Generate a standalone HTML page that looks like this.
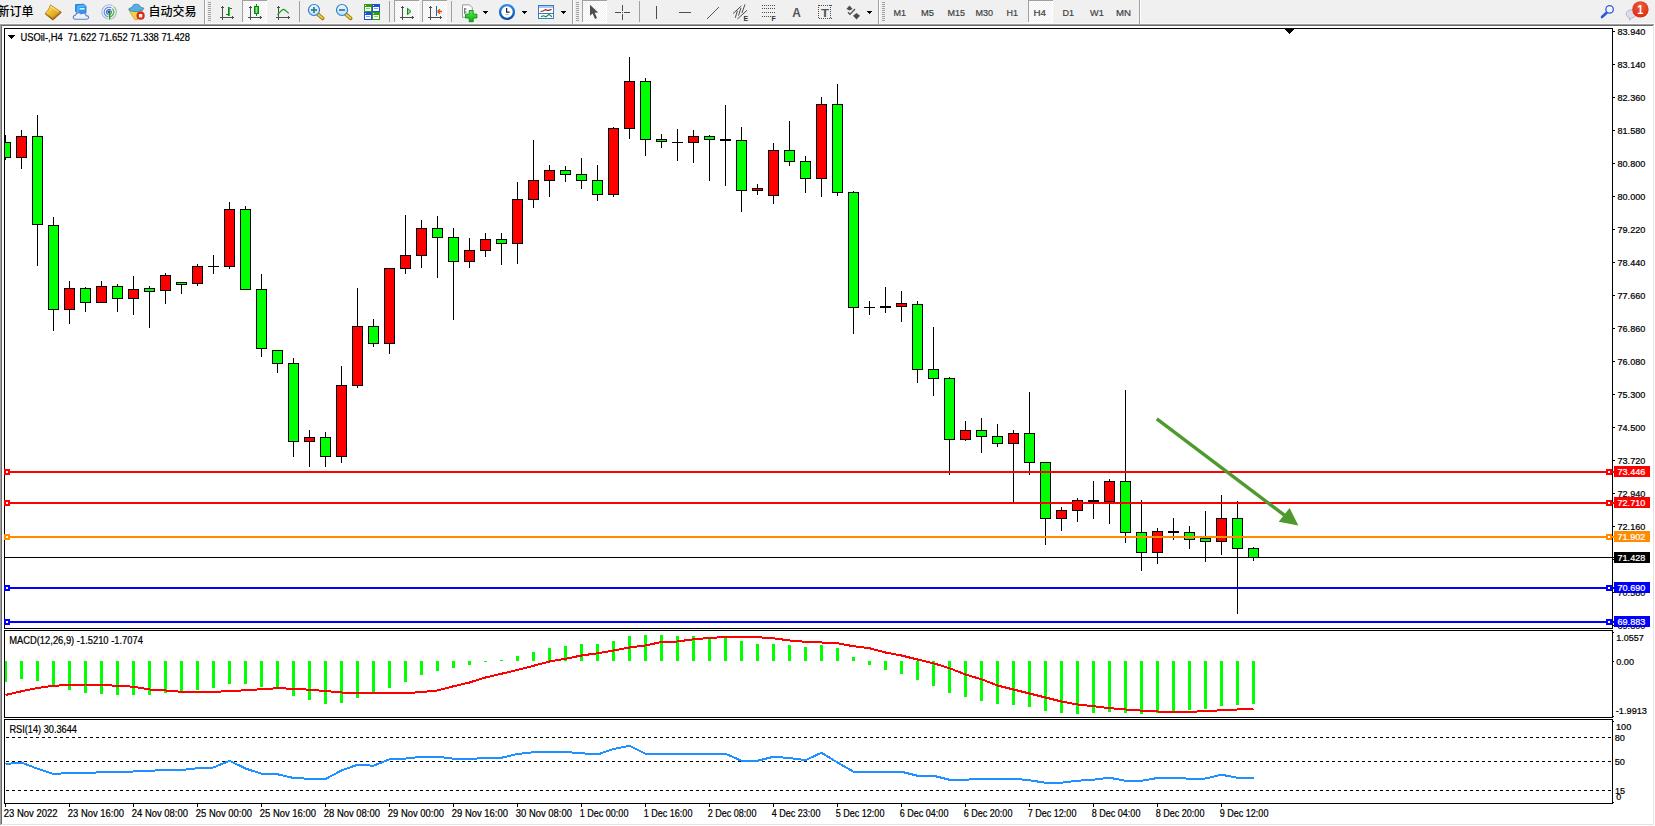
<!DOCTYPE html>
<html lang="zh"><head><meta charset="utf-8"><title>USOil-,H4</title>
<style>html,body{margin:0;padding:0;background:#fff;overflow:hidden}body{width:1655px;height:826px;position:relative}svg{position:absolute;left:0;top:0;display:block}text{font-family:'Liberation Sans', sans-serif;white-space:pre}.cjk{font-family:'Liberation Sans', 'Noto Sans CJK SC', sans-serif}</style></head><body>
<svg width="1655" height="826" viewBox="0 0 1655 826">
<g shape-rendering="crispEdges">
<rect x="0" y="0" width="1655" height="826" fill="#ffffff"/>
<rect x="0" y="0" width="1655" height="24" fill="#f0f0f0"/>
<rect x="0" y="23" width="1655" height="1" fill="#f8f8f8"/>
<rect x="0" y="24" width="1654" height="1" fill="#a0a0a0"/>
<rect x="0" y="24" width="1" height="801" fill="#a0a0a0"/>
<rect x="1" y="25" width="1652" height="1" fill="#696969"/>
<rect x="1" y="25" width="1" height="799" fill="#696969"/>
<rect x="1653" y="25" width="1" height="800" fill="#e3e3e3"/>
<rect x="1" y="824" width="1653" height="1" fill="#e3e3e3"/>
<rect x="4" y="28" width="1609" height="1" fill="#000"/>
<rect x="4" y="628" width="1609" height="1" fill="#000"/>
<rect x="4" y="28" width="1" height="601" fill="#000"/>
<rect x="1612" y="28" width="1" height="601" fill="#000"/>
<rect x="4" y="630" width="1609" height="1" fill="#000"/>
<rect x="4" y="717" width="1609" height="1" fill="#000"/>
<rect x="4" y="630" width="1" height="88" fill="#000"/>
<rect x="1612" y="630" width="1" height="88" fill="#000"/>
<rect x="4" y="719" width="1609" height="1" fill="#000"/>
<rect x="4" y="803" width="1609" height="1" fill="#000"/>
<rect x="4" y="719" width="1" height="85" fill="#000"/>
<rect x="1612" y="719" width="1" height="85" fill="#000"/>
</g>
<g shape-rendering="crispEdges">
<rect x="1285" y="29" width="9" height="1" fill="#000"/>
<rect x="1286" y="30" width="7" height="1" fill="#000"/>
<rect x="1287" y="31" width="5" height="1" fill="#000"/>
<rect x="1288" y="32" width="3" height="1" fill="#000"/>
<rect x="1289" y="33" width="1" height="1" fill="#000"/>
<rect x="5" y="135" width="1" height="25" fill="#000"/>
<rect x="5" y="142" width="6" height="16" fill="#000"/>
<rect x="5" y="143" width="5" height="14" fill="#00ff00"/>
<rect x="21" y="130" width="1" height="39" fill="#000"/>
<rect x="16" y="136" width="11" height="22" fill="#000"/>
<rect x="17" y="137" width="9" height="20" fill="#ff0000"/>
<rect x="37" y="115" width="1" height="151" fill="#000"/>
<rect x="32" y="136" width="11" height="89" fill="#000"/>
<rect x="33" y="137" width="9" height="87" fill="#00ff00"/>
<rect x="53" y="217" width="1" height="114" fill="#000"/>
<rect x="48" y="225" width="11" height="85" fill="#000"/>
<rect x="49" y="226" width="9" height="83" fill="#00ff00"/>
<rect x="69" y="281" width="1" height="43" fill="#000"/>
<rect x="64" y="288" width="11" height="22" fill="#000"/>
<rect x="65" y="289" width="9" height="20" fill="#ff0000"/>
<rect x="85" y="287" width="1" height="25" fill="#000"/>
<rect x="80" y="288" width="11" height="15" fill="#000"/>
<rect x="81" y="289" width="9" height="13" fill="#00ff00"/>
<rect x="101" y="281" width="1" height="22" fill="#000"/>
<rect x="96" y="286" width="11" height="17" fill="#000"/>
<rect x="97" y="287" width="9" height="15" fill="#ff0000"/>
<rect x="117" y="284" width="1" height="28" fill="#000"/>
<rect x="112" y="286" width="11" height="13" fill="#000"/>
<rect x="113" y="287" width="9" height="11" fill="#00ff00"/>
<rect x="133" y="276" width="1" height="39" fill="#000"/>
<rect x="128" y="289" width="11" height="10" fill="#000"/>
<rect x="129" y="290" width="9" height="8" fill="#ff0000"/>
<rect x="149" y="286" width="1" height="42" fill="#000"/>
<rect x="144" y="288" width="11" height="4" fill="#000"/>
<rect x="145" y="289" width="9" height="2" fill="#00ff00"/>
<rect x="165" y="273" width="1" height="31" fill="#000"/>
<rect x="160" y="275" width="11" height="16" fill="#000"/>
<rect x="161" y="276" width="9" height="14" fill="#ff0000"/>
<rect x="181" y="282" width="1" height="12" fill="#000"/>
<rect x="176" y="282" width="11" height="3" fill="#000"/>
<rect x="177" y="283" width="9" height="1" fill="#00ff00"/>
<rect x="197" y="264" width="1" height="22" fill="#000"/>
<rect x="192" y="266" width="11" height="18" fill="#000"/>
<rect x="193" y="267" width="9" height="16" fill="#ff0000"/>
<rect x="213" y="255" width="1" height="19" fill="#000"/>
<rect x="208" y="266" width="11" height="1" fill="#000"/>
<rect x="229" y="202" width="1" height="67" fill="#000"/>
<rect x="224" y="209" width="11" height="58" fill="#000"/>
<rect x="225" y="210" width="9" height="56" fill="#ff0000"/>
<rect x="245" y="206" width="1" height="84" fill="#000"/>
<rect x="240" y="209" width="11" height="81" fill="#000"/>
<rect x="241" y="210" width="9" height="79" fill="#00ff00"/>
<rect x="261" y="274" width="1" height="83" fill="#000"/>
<rect x="256" y="289" width="11" height="60" fill="#000"/>
<rect x="257" y="290" width="9" height="58" fill="#00ff00"/>
<rect x="277" y="350" width="1" height="23" fill="#000"/>
<rect x="272" y="350" width="11" height="14" fill="#000"/>
<rect x="273" y="351" width="9" height="12" fill="#00ff00"/>
<rect x="293" y="358" width="1" height="99" fill="#000"/>
<rect x="288" y="363" width="11" height="79" fill="#000"/>
<rect x="289" y="364" width="9" height="77" fill="#00ff00"/>
<rect x="309" y="430" width="1" height="37" fill="#000"/>
<rect x="304" y="437" width="11" height="5" fill="#000"/>
<rect x="305" y="438" width="9" height="3" fill="#ff0000"/>
<rect x="325" y="432" width="1" height="35" fill="#000"/>
<rect x="320" y="437" width="11" height="20" fill="#000"/>
<rect x="321" y="438" width="9" height="18" fill="#00ff00"/>
<rect x="341" y="366" width="1" height="97" fill="#000"/>
<rect x="336" y="385" width="11" height="72" fill="#000"/>
<rect x="337" y="386" width="9" height="70" fill="#ff0000"/>
<rect x="357" y="288" width="1" height="100" fill="#000"/>
<rect x="352" y="326" width="11" height="60" fill="#000"/>
<rect x="353" y="327" width="9" height="58" fill="#ff0000"/>
<rect x="373" y="319" width="1" height="28" fill="#000"/>
<rect x="368" y="326" width="11" height="18" fill="#000"/>
<rect x="369" y="327" width="9" height="16" fill="#00ff00"/>
<rect x="389" y="268" width="1" height="86" fill="#000"/>
<rect x="384" y="268" width="11" height="76" fill="#000"/>
<rect x="385" y="269" width="9" height="74" fill="#ff0000"/>
<rect x="405" y="215" width="1" height="59" fill="#000"/>
<rect x="400" y="255" width="11" height="14" fill="#000"/>
<rect x="401" y="256" width="9" height="12" fill="#ff0000"/>
<rect x="421" y="220" width="1" height="48" fill="#000"/>
<rect x="416" y="228" width="11" height="28" fill="#000"/>
<rect x="417" y="229" width="9" height="26" fill="#ff0000"/>
<rect x="437" y="216" width="1" height="62" fill="#000"/>
<rect x="432" y="228" width="11" height="10" fill="#000"/>
<rect x="433" y="229" width="9" height="8" fill="#00ff00"/>
<rect x="453" y="228" width="1" height="92" fill="#000"/>
<rect x="448" y="237" width="11" height="25" fill="#000"/>
<rect x="449" y="238" width="9" height="23" fill="#00ff00"/>
<rect x="469" y="238" width="1" height="30" fill="#000"/>
<rect x="464" y="250" width="11" height="12" fill="#000"/>
<rect x="465" y="251" width="9" height="10" fill="#ff0000"/>
<rect x="485" y="233" width="1" height="24" fill="#000"/>
<rect x="480" y="239" width="11" height="12" fill="#000"/>
<rect x="481" y="240" width="9" height="10" fill="#ff0000"/>
<rect x="501" y="233" width="1" height="32" fill="#000"/>
<rect x="496" y="239" width="11" height="5" fill="#000"/>
<rect x="497" y="240" width="9" height="3" fill="#00ff00"/>
<rect x="517" y="182" width="1" height="82" fill="#000"/>
<rect x="512" y="199" width="11" height="45" fill="#000"/>
<rect x="513" y="200" width="9" height="43" fill="#ff0000"/>
<rect x="533" y="140" width="1" height="68" fill="#000"/>
<rect x="528" y="180" width="11" height="20" fill="#000"/>
<rect x="529" y="181" width="9" height="18" fill="#ff0000"/>
<rect x="549" y="165" width="1" height="32" fill="#000"/>
<rect x="544" y="170" width="11" height="11" fill="#000"/>
<rect x="545" y="171" width="9" height="9" fill="#ff0000"/>
<rect x="565" y="166" width="1" height="16" fill="#000"/>
<rect x="560" y="170" width="11" height="5" fill="#000"/>
<rect x="561" y="171" width="9" height="3" fill="#00ff00"/>
<rect x="581" y="158" width="1" height="31" fill="#000"/>
<rect x="576" y="174" width="11" height="7" fill="#000"/>
<rect x="577" y="175" width="9" height="5" fill="#00ff00"/>
<rect x="597" y="165" width="1" height="36" fill="#000"/>
<rect x="592" y="180" width="11" height="15" fill="#000"/>
<rect x="593" y="181" width="9" height="13" fill="#00ff00"/>
<rect x="613" y="127" width="1" height="70" fill="#000"/>
<rect x="608" y="128" width="11" height="67" fill="#000"/>
<rect x="609" y="129" width="9" height="65" fill="#ff0000"/>
<rect x="629" y="57" width="1" height="82" fill="#000"/>
<rect x="624" y="81" width="11" height="48" fill="#000"/>
<rect x="625" y="82" width="9" height="46" fill="#ff0000"/>
<rect x="645" y="78" width="1" height="78" fill="#000"/>
<rect x="640" y="81" width="11" height="59" fill="#000"/>
<rect x="641" y="82" width="9" height="57" fill="#00ff00"/>
<rect x="661" y="134" width="1" height="14" fill="#000"/>
<rect x="656" y="139" width="11" height="3" fill="#000"/>
<rect x="657" y="140" width="9" height="1" fill="#00ff00"/>
<rect x="677" y="129" width="1" height="32" fill="#000"/>
<rect x="672" y="142" width="11" height="1" fill="#000"/>
<rect x="693" y="130" width="1" height="33" fill="#000"/>
<rect x="688" y="136" width="11" height="7" fill="#000"/>
<rect x="689" y="137" width="9" height="5" fill="#ff0000"/>
<rect x="709" y="135" width="1" height="46" fill="#000"/>
<rect x="704" y="136" width="11" height="4" fill="#000"/>
<rect x="705" y="137" width="9" height="2" fill="#00ff00"/>
<rect x="725" y="105" width="1" height="81" fill="#000"/>
<rect x="720" y="139" width="11" height="2" fill="#000"/>
<rect x="741" y="127" width="1" height="85" fill="#000"/>
<rect x="736" y="140" width="11" height="51" fill="#000"/>
<rect x="737" y="141" width="9" height="49" fill="#00ff00"/>
<rect x="757" y="184" width="1" height="11" fill="#000"/>
<rect x="752" y="188" width="11" height="3" fill="#000"/>
<rect x="753" y="189" width="9" height="1" fill="#ff0000"/>
<rect x="773" y="143" width="1" height="61" fill="#000"/>
<rect x="768" y="150" width="11" height="46" fill="#000"/>
<rect x="769" y="151" width="9" height="44" fill="#ff0000"/>
<rect x="789" y="121" width="1" height="45" fill="#000"/>
<rect x="784" y="150" width="11" height="12" fill="#000"/>
<rect x="785" y="151" width="9" height="10" fill="#00ff00"/>
<rect x="805" y="156" width="1" height="37" fill="#000"/>
<rect x="800" y="161" width="11" height="18" fill="#000"/>
<rect x="801" y="162" width="9" height="16" fill="#00ff00"/>
<rect x="821" y="97" width="1" height="100" fill="#000"/>
<rect x="816" y="104" width="11" height="75" fill="#000"/>
<rect x="817" y="105" width="9" height="73" fill="#ff0000"/>
<rect x="837" y="84" width="1" height="112" fill="#000"/>
<rect x="832" y="104" width="11" height="89" fill="#000"/>
<rect x="833" y="105" width="9" height="87" fill="#00ff00"/>
<rect x="853" y="191" width="1" height="143" fill="#000"/>
<rect x="848" y="192" width="11" height="116" fill="#000"/>
<rect x="849" y="193" width="9" height="114" fill="#00ff00"/>
<rect x="869" y="301" width="1" height="14" fill="#000"/>
<rect x="864" y="307" width="11" height="1" fill="#000"/>
<rect x="885" y="287" width="1" height="26" fill="#000"/>
<rect x="880" y="306" width="11" height="2" fill="#000"/>
<rect x="901" y="291" width="1" height="31" fill="#000"/>
<rect x="896" y="303" width="11" height="4" fill="#000"/>
<rect x="897" y="304" width="9" height="2" fill="#ff0000"/>
<rect x="917" y="301" width="1" height="82" fill="#000"/>
<rect x="912" y="304" width="11" height="66" fill="#000"/>
<rect x="913" y="305" width="9" height="64" fill="#00ff00"/>
<rect x="933" y="327" width="1" height="69" fill="#000"/>
<rect x="928" y="369" width="11" height="10" fill="#000"/>
<rect x="929" y="370" width="9" height="8" fill="#00ff00"/>
<rect x="949" y="377" width="1" height="98" fill="#000"/>
<rect x="944" y="378" width="11" height="62" fill="#000"/>
<rect x="945" y="379" width="9" height="60" fill="#00ff00"/>
<rect x="965" y="421" width="1" height="20" fill="#000"/>
<rect x="960" y="430" width="11" height="10" fill="#000"/>
<rect x="961" y="431" width="9" height="8" fill="#ff0000"/>
<rect x="981" y="418" width="1" height="35" fill="#000"/>
<rect x="976" y="430" width="11" height="7" fill="#000"/>
<rect x="977" y="431" width="9" height="5" fill="#00ff00"/>
<rect x="997" y="424" width="1" height="23" fill="#000"/>
<rect x="992" y="436" width="11" height="8" fill="#000"/>
<rect x="993" y="437" width="9" height="6" fill="#00ff00"/>
<rect x="1013" y="430" width="1" height="72" fill="#000"/>
<rect x="1008" y="433" width="11" height="11" fill="#000"/>
<rect x="1009" y="434" width="9" height="9" fill="#ff0000"/>
<rect x="1029" y="392" width="1" height="83" fill="#000"/>
<rect x="1024" y="433" width="11" height="30" fill="#000"/>
<rect x="1025" y="434" width="9" height="28" fill="#00ff00"/>
<rect x="1045" y="462" width="1" height="83" fill="#000"/>
<rect x="1040" y="462" width="11" height="57" fill="#000"/>
<rect x="1041" y="463" width="9" height="55" fill="#00ff00"/>
<rect x="1061" y="507" width="1" height="24" fill="#000"/>
<rect x="1056" y="510" width="11" height="9" fill="#000"/>
<rect x="1057" y="511" width="9" height="7" fill="#ff0000"/>
<rect x="1077" y="498" width="1" height="24" fill="#000"/>
<rect x="1072" y="500" width="11" height="11" fill="#000"/>
<rect x="1073" y="501" width="9" height="9" fill="#ff0000"/>
<rect x="1093" y="481" width="1" height="38" fill="#000"/>
<rect x="1088" y="500" width="11" height="2" fill="#000"/>
<rect x="1109" y="479" width="1" height="45" fill="#000"/>
<rect x="1104" y="481" width="11" height="21" fill="#000"/>
<rect x="1105" y="482" width="9" height="19" fill="#ff0000"/>
<rect x="1125" y="390" width="1" height="153" fill="#000"/>
<rect x="1120" y="481" width="11" height="52" fill="#000"/>
<rect x="1121" y="482" width="9" height="50" fill="#00ff00"/>
<rect x="1141" y="500" width="1" height="71" fill="#000"/>
<rect x="1136" y="532" width="11" height="21" fill="#000"/>
<rect x="1137" y="533" width="9" height="19" fill="#00ff00"/>
<rect x="1157" y="528" width="1" height="36" fill="#000"/>
<rect x="1152" y="531" width="11" height="22" fill="#000"/>
<rect x="1153" y="532" width="9" height="20" fill="#ff0000"/>
<rect x="1173" y="518" width="1" height="22" fill="#000"/>
<rect x="1168" y="531" width="11" height="2" fill="#000"/>
<rect x="1189" y="526" width="1" height="23" fill="#000"/>
<rect x="1184" y="532" width="11" height="8" fill="#000"/>
<rect x="1185" y="533" width="9" height="6" fill="#00ff00"/>
<rect x="1205" y="511" width="1" height="51" fill="#000"/>
<rect x="1200" y="538" width="11" height="4" fill="#000"/>
<rect x="1201" y="539" width="9" height="2" fill="#00ff00"/>
<rect x="1221" y="495" width="1" height="60" fill="#000"/>
<rect x="1216" y="518" width="11" height="24" fill="#000"/>
<rect x="1217" y="519" width="9" height="22" fill="#ff0000"/>
<rect x="1237" y="501" width="1" height="113" fill="#000"/>
<rect x="1232" y="518" width="11" height="31" fill="#000"/>
<rect x="1233" y="519" width="9" height="29" fill="#00ff00"/>
<rect x="1253" y="547" width="1" height="14" fill="#000"/>
<rect x="1248" y="548" width="11" height="10" fill="#000"/>
<rect x="1249" y="549" width="9" height="8" fill="#00ff00"/>
<rect x="5" y="557" width="1609" height="1" fill="#000"/>
<rect x="5" y="471" width="1609" height="2" fill="#ff0000"/>
<rect x="4" y="469" width="6" height="6" fill="#ff0000"/>
<rect x="6" y="471" width="2" height="2" fill="#fff"/>
<rect x="1606" y="469" width="6" height="6" fill="#ff0000"/>
<rect x="1608" y="471" width="2" height="2" fill="#fff"/>
<rect x="5" y="502" width="1609" height="2" fill="#ff0000"/>
<rect x="4" y="500" width="6" height="6" fill="#ff0000"/>
<rect x="6" y="502" width="2" height="2" fill="#fff"/>
<rect x="1606" y="500" width="6" height="6" fill="#ff0000"/>
<rect x="1608" y="502" width="2" height="2" fill="#fff"/>
<rect x="5" y="536" width="1609" height="2" fill="#ff8c00"/>
<rect x="4" y="534" width="6" height="6" fill="#ff8c00"/>
<rect x="6" y="536" width="2" height="2" fill="#fff"/>
<rect x="1606" y="534" width="6" height="6" fill="#ff8c00"/>
<rect x="1608" y="536" width="2" height="2" fill="#fff"/>
<rect x="5" y="587" width="1609" height="2" fill="#0000ff"/>
<rect x="4" y="585" width="6" height="6" fill="#0000ff"/>
<rect x="6" y="587" width="2" height="2" fill="#fff"/>
<rect x="1606" y="585" width="6" height="6" fill="#0000ff"/>
<rect x="1608" y="587" width="2" height="2" fill="#fff"/>
<rect x="5" y="621" width="1609" height="2" fill="#0000ff"/>
<rect x="4" y="619" width="6" height="6" fill="#0000ff"/>
<rect x="6" y="621" width="2" height="2" fill="#fff"/>
<rect x="1606" y="619" width="6" height="6" fill="#0000ff"/>
<rect x="1608" y="621" width="2" height="2" fill="#fff"/>
</g>
<g fill="#4e9a2e" stroke="none"><line x1="1156.8" y1="418.8" x2="1285" y2="515.6" stroke="#4e9a2e" stroke-width="3.4"/><polygon points="1298.4,525.4 1278.7,521.7 1289.6,508.1"/></g>
<g shape-rendering="crispEdges">
<rect x="5" y="661" width="2" height="21" fill="#00ff00"/>
<rect x="20" y="661" width="3" height="18" fill="#00ff00"/>
<rect x="36" y="661" width="3" height="20" fill="#00ff00"/>
<rect x="52" y="661" width="3" height="25" fill="#00ff00"/>
<rect x="68" y="661" width="3" height="29" fill="#00ff00"/>
<rect x="84" y="661" width="3" height="32" fill="#00ff00"/>
<rect x="100" y="661" width="3" height="33" fill="#00ff00"/>
<rect x="116" y="661" width="3" height="34" fill="#00ff00"/>
<rect x="132" y="661" width="3" height="34" fill="#00ff00"/>
<rect x="148" y="661" width="3" height="34" fill="#00ff00"/>
<rect x="164" y="661" width="3" height="32" fill="#00ff00"/>
<rect x="180" y="661" width="3" height="31" fill="#00ff00"/>
<rect x="196" y="661" width="3" height="29" fill="#00ff00"/>
<rect x="212" y="661" width="3" height="27" fill="#00ff00"/>
<rect x="228" y="661" width="3" height="23" fill="#00ff00"/>
<rect x="244" y="661" width="3" height="23" fill="#00ff00"/>
<rect x="260" y="661" width="3" height="26" fill="#00ff00"/>
<rect x="276" y="661" width="3" height="27" fill="#00ff00"/>
<rect x="292" y="661" width="3" height="35" fill="#00ff00"/>
<rect x="308" y="661" width="3" height="39" fill="#00ff00"/>
<rect x="324" y="661" width="3" height="43" fill="#00ff00"/>
<rect x="340" y="661" width="3" height="42" fill="#00ff00"/>
<rect x="356" y="661" width="3" height="37" fill="#00ff00"/>
<rect x="372" y="661" width="3" height="32" fill="#00ff00"/>
<rect x="388" y="661" width="3" height="27" fill="#00ff00"/>
<rect x="404" y="661" width="3" height="21" fill="#00ff00"/>
<rect x="420" y="661" width="3" height="14" fill="#00ff00"/>
<rect x="436" y="661" width="3" height="10" fill="#00ff00"/>
<rect x="452" y="661" width="3" height="7" fill="#00ff00"/>
<rect x="468" y="661" width="3" height="4" fill="#00ff00"/>
<rect x="484" y="661" width="3" height="1" fill="#00ff00"/>
<rect x="500" y="660" width="3" height="1" fill="#00ff00"/>
<rect x="516" y="656" width="3" height="5" fill="#00ff00"/>
<rect x="532" y="652" width="3" height="9" fill="#00ff00"/>
<rect x="548" y="648" width="3" height="13" fill="#00ff00"/>
<rect x="564" y="646" width="3" height="15" fill="#00ff00"/>
<rect x="580" y="644" width="3" height="17" fill="#00ff00"/>
<rect x="596" y="644" width="3" height="17" fill="#00ff00"/>
<rect x="612" y="641" width="3" height="20" fill="#00ff00"/>
<rect x="628" y="636" width="3" height="25" fill="#00ff00"/>
<rect x="644" y="635" width="3" height="26" fill="#00ff00"/>
<rect x="660" y="635" width="3" height="26" fill="#00ff00"/>
<rect x="676" y="636" width="3" height="25" fill="#00ff00"/>
<rect x="692" y="636" width="3" height="25" fill="#00ff00"/>
<rect x="708" y="638" width="3" height="23" fill="#00ff00"/>
<rect x="724" y="638" width="3" height="23" fill="#00ff00"/>
<rect x="740" y="641" width="3" height="20" fill="#00ff00"/>
<rect x="756" y="644" width="3" height="17" fill="#00ff00"/>
<rect x="772" y="644" width="3" height="17" fill="#00ff00"/>
<rect x="788" y="645" width="3" height="16" fill="#00ff00"/>
<rect x="804" y="647" width="3" height="14" fill="#00ff00"/>
<rect x="820" y="645" width="3" height="16" fill="#00ff00"/>
<rect x="836" y="648" width="3" height="13" fill="#00ff00"/>
<rect x="852" y="657" width="3" height="4" fill="#00ff00"/>
<rect x="868" y="661" width="3" height="4" fill="#00ff00"/>
<rect x="884" y="661" width="3" height="9" fill="#00ff00"/>
<rect x="900" y="661" width="3" height="13" fill="#00ff00"/>
<rect x="916" y="661" width="3" height="19" fill="#00ff00"/>
<rect x="932" y="661" width="3" height="25" fill="#00ff00"/>
<rect x="948" y="661" width="3" height="32" fill="#00ff00"/>
<rect x="964" y="661" width="3" height="36" fill="#00ff00"/>
<rect x="980" y="661" width="3" height="40" fill="#00ff00"/>
<rect x="996" y="661" width="3" height="43" fill="#00ff00"/>
<rect x="1012" y="661" width="3" height="44" fill="#00ff00"/>
<rect x="1028" y="661" width="3" height="46" fill="#00ff00"/>
<rect x="1044" y="661" width="3" height="50" fill="#00ff00"/>
<rect x="1060" y="661" width="3" height="52" fill="#00ff00"/>
<rect x="1076" y="661" width="3" height="53" fill="#00ff00"/>
<rect x="1092" y="661" width="3" height="52" fill="#00ff00"/>
<rect x="1108" y="661" width="3" height="51" fill="#00ff00"/>
<rect x="1124" y="661" width="3" height="52" fill="#00ff00"/>
<rect x="1140" y="661" width="3" height="53" fill="#00ff00"/>
<rect x="1156" y="661" width="3" height="52" fill="#00ff00"/>
<rect x="1172" y="661" width="3" height="51" fill="#00ff00"/>
<rect x="1188" y="661" width="3" height="49" fill="#00ff00"/>
<rect x="1204" y="661" width="3" height="48" fill="#00ff00"/>
<rect x="1220" y="661" width="3" height="45" fill="#00ff00"/>
<rect x="1236" y="661" width="3" height="44" fill="#00ff00"/>
<rect x="1252" y="661" width="3" height="43" fill="#00ff00"/>
</g>
<polyline points="5.5,695 21.5,691.25 37.5,688 53.5,685.75 69.5,685 85.5,684.5 101.5,685 117.5,685.75 133.5,686.75 149.5,689.5 165.5,690.5 181.5,691.75 197.5,691.75 213.5,691.75 229.5,691.25 245.5,690.25 261.5,689.25 277.5,688.25 293.5,688.75 309.5,689.75 325.5,691 341.5,692.5 357.5,693.25 373.5,693.25 389.5,693.25 405.5,693.25 421.5,692 437.5,690.5 453.5,686.25 469.5,682.5 485.5,677.5 501.5,673.75 517.5,670 533.5,665.75 549.5,661.5 565.5,658.75 581.5,655.5 597.5,653.25 613.5,650.5 629.5,647.5 645.5,645.5 661.5,642 677.5,641.5 693.5,639.25 709.5,638 725.5,637 741.5,637 757.5,637.25 773.5,638.25 789.5,640.5 805.5,641.75 821.5,642.5 837.5,643.25 853.5,646.25 869.5,648.25 885.5,652.5 901.5,655.5 917.5,659.5 933.5,663.25 949.5,668.25 965.5,674.5 981.5,679.25 997.5,685.5 1013.5,689.5 1029.5,693.5 1045.5,697.5 1061.5,701.5 1077.5,704.5 1093.5,706.25 1109.5,708.1 1125.5,709.5 1141.5,710.6 1157.5,711.5 1173.5,711.75 1189.5,711.75 1205.5,711.25 1221.5,710.25 1237.5,709.5 1253.5,708.9" fill="none" stroke="#ff0000" stroke-width="2" stroke-linejoin="round" shape-rendering="crispEdges"/>
<g shape-rendering="crispEdges">
<line x1="6" y1="737.5" x2="1612" y2="737.5" stroke="#000" stroke-width="1" stroke-dasharray="3 3"/>
<line x1="6" y1="761.5" x2="1612" y2="761.5" stroke="#000" stroke-width="1" stroke-dasharray="3 3"/>
<line x1="6" y1="790.5" x2="1612" y2="790.5" stroke="#000" stroke-width="1" stroke-dasharray="3 3"/>
</g>
<polyline points="5.5,764 21.5,762.5 37.5,768.75 53.5,774 69.5,773 85.5,773 101.5,772.25 117.5,772 133.5,771.5 149.5,770.75 165.5,770 181.5,770 197.5,768.25 213.5,767.5 229.5,760.75 245.5,768.5 261.5,773.75 277.5,774.25 293.5,778 309.5,778.75 325.5,779 341.5,770.5 357.5,764.75 373.5,765.75 389.5,759.25 405.5,758.6 421.5,756.75 437.5,756.75 453.5,758.75 469.5,759 485.5,758 501.5,757.75 517.5,754 533.5,752.25 549.5,752 565.5,752 581.5,753.25 597.5,754.5 613.5,749 629.5,745.75 645.5,753.75 661.5,753.75 677.5,753.75 693.5,753.75 709.5,753.75 725.5,753.75 741.5,760.75 757.5,760.75 773.5,756.75 789.5,758 805.5,760.1 821.5,752.75 837.5,762.5 853.5,771.75 869.5,771.75 885.5,771.75 901.5,771.75 917.5,775.75 933.5,775.75 949.5,779.75 965.5,779.75 981.5,778.75 997.5,778.75 1013.5,778.75 1029.5,780.25 1045.5,782.75 1061.5,782.75 1077.5,780.75 1093.5,779.75 1109.5,777.75 1125.5,780.75 1141.5,780.75 1157.5,778 1173.5,777.6 1189.5,778.75 1205.5,778.5 1221.5,774.75 1237.5,777.75 1253.5,777.75" fill="none" stroke="#1e90ff" stroke-width="2" stroke-linejoin="round" shape-rendering="crispEdges"/>
<g shape-rendering="crispEdges">
<rect x="1613" y="31" width="2" height="1" fill="#000"/>
<rect x="1613" y="64" width="2" height="1" fill="#000"/>
<rect x="1613" y="97" width="2" height="1" fill="#000"/>
<rect x="1613" y="130" width="2" height="1" fill="#000"/>
<rect x="1613" y="163" width="2" height="1" fill="#000"/>
<rect x="1613" y="196" width="2" height="1" fill="#000"/>
<rect x="1613" y="229" width="2" height="1" fill="#000"/>
<rect x="1613" y="262" width="2" height="1" fill="#000"/>
<rect x="1613" y="295" width="2" height="1" fill="#000"/>
<rect x="1613" y="328" width="2" height="1" fill="#000"/>
<rect x="1613" y="361" width="2" height="1" fill="#000"/>
<rect x="1613" y="394" width="2" height="1" fill="#000"/>
<rect x="1613" y="427" width="2" height="1" fill="#000"/>
<rect x="1613" y="460" width="2" height="1" fill="#000"/>
<rect x="1613" y="493" width="2" height="1" fill="#000"/>
<rect x="1613" y="526" width="2" height="1" fill="#000"/>
<rect x="1613" y="559" width="2" height="1" fill="#000"/>
<rect x="1613" y="592" width="2" height="1" fill="#000"/>
<rect x="1613" y="625" width="2" height="1" fill="#000"/>
<rect x="1613" y="632" width="1" height="1" fill="#000"/>
<rect x="1613" y="661" width="1" height="1" fill="#000"/>
<rect x="1613" y="716" width="1" height="1" fill="#000"/>
<rect x="1613" y="721" width="1" height="1" fill="#000"/>
<rect x="1613" y="802" width="1" height="1" fill="#000"/>
<rect x="5" y="804" width="1" height="3" fill="#000"/>
<rect x="69" y="804" width="1" height="3" fill="#000"/>
<rect x="133" y="804" width="1" height="3" fill="#000"/>
<rect x="197" y="804" width="1" height="3" fill="#000"/>
<rect x="261" y="804" width="1" height="3" fill="#000"/>
<rect x="325" y="804" width="1" height="3" fill="#000"/>
<rect x="389" y="804" width="1" height="3" fill="#000"/>
<rect x="453" y="804" width="1" height="3" fill="#000"/>
<rect x="517" y="804" width="1" height="3" fill="#000"/>
<rect x="581" y="804" width="1" height="3" fill="#000"/>
<rect x="645" y="804" width="1" height="3" fill="#000"/>
<rect x="709" y="804" width="1" height="3" fill="#000"/>
<rect x="773" y="804" width="1" height="3" fill="#000"/>
<rect x="837" y="804" width="1" height="3" fill="#000"/>
<rect x="901" y="804" width="1" height="3" fill="#000"/>
<rect x="965" y="804" width="1" height="3" fill="#000"/>
<rect x="1029" y="804" width="1" height="3" fill="#000"/>
<rect x="1093" y="804" width="1" height="3" fill="#000"/>
<rect x="1157" y="804" width="1" height="3" fill="#000"/>
<rect x="1221" y="804" width="1" height="3" fill="#000"/>
</g>
<g>
<text x="1617.5" y="35" font-size="9.5" fill="#000" stroke="#000" stroke-width="0.22" textLength="27.8" lengthAdjust="spacingAndGlyphs">83.940</text>
<text x="1617.5" y="68" font-size="9.5" fill="#000" stroke="#000" stroke-width="0.22" textLength="27.8" lengthAdjust="spacingAndGlyphs">83.140</text>
<text x="1617.5" y="101" font-size="9.5" fill="#000" stroke="#000" stroke-width="0.22" textLength="27.8" lengthAdjust="spacingAndGlyphs">82.360</text>
<text x="1617.5" y="134" font-size="9.5" fill="#000" stroke="#000" stroke-width="0.22" textLength="27.8" lengthAdjust="spacingAndGlyphs">81.580</text>
<text x="1617.5" y="167" font-size="9.5" fill="#000" stroke="#000" stroke-width="0.22" textLength="27.8" lengthAdjust="spacingAndGlyphs">80.800</text>
<text x="1617.5" y="200" font-size="9.5" fill="#000" stroke="#000" stroke-width="0.22" textLength="27.8" lengthAdjust="spacingAndGlyphs">80.000</text>
<text x="1617.5" y="233" font-size="9.5" fill="#000" stroke="#000" stroke-width="0.22" textLength="27.8" lengthAdjust="spacingAndGlyphs">79.220</text>
<text x="1617.5" y="266" font-size="9.5" fill="#000" stroke="#000" stroke-width="0.22" textLength="27.8" lengthAdjust="spacingAndGlyphs">78.440</text>
<text x="1617.5" y="299" font-size="9.5" fill="#000" stroke="#000" stroke-width="0.22" textLength="27.8" lengthAdjust="spacingAndGlyphs">77.660</text>
<text x="1617.5" y="332" font-size="9.5" fill="#000" stroke="#000" stroke-width="0.22" textLength="27.8" lengthAdjust="spacingAndGlyphs">76.860</text>
<text x="1617.5" y="365" font-size="9.5" fill="#000" stroke="#000" stroke-width="0.22" textLength="27.8" lengthAdjust="spacingAndGlyphs">76.080</text>
<text x="1617.5" y="398" font-size="9.5" fill="#000" stroke="#000" stroke-width="0.22" textLength="27.8" lengthAdjust="spacingAndGlyphs">75.300</text>
<text x="1617.5" y="431" font-size="9.5" fill="#000" stroke="#000" stroke-width="0.22" textLength="27.8" lengthAdjust="spacingAndGlyphs">74.500</text>
<text x="1617.5" y="464" font-size="9.5" fill="#000" stroke="#000" stroke-width="0.22" textLength="27.8" lengthAdjust="spacingAndGlyphs">73.720</text>
<text x="1617.5" y="497" font-size="9.5" fill="#000" stroke="#000" stroke-width="0.22" textLength="27.8" lengthAdjust="spacingAndGlyphs">72.940</text>
<text x="1617.5" y="530" font-size="9.5" fill="#000" stroke="#000" stroke-width="0.22" textLength="27.8" lengthAdjust="spacingAndGlyphs">72.160</text>
<text x="1617.5" y="563" font-size="9.5" fill="#000" stroke="#000" stroke-width="0.22" textLength="27.8" lengthAdjust="spacingAndGlyphs">71.380</text>
<text x="1617.5" y="596" font-size="9.5" fill="#000" stroke="#000" stroke-width="0.22" textLength="27.8" lengthAdjust="spacingAndGlyphs">70.580</text>
<text x="1617.5" y="629" font-size="9.5" fill="#000" stroke="#000" stroke-width="0.22" textLength="27.8" lengthAdjust="spacingAndGlyphs">69.800</text>
</g><g shape-rendering="crispEdges">
<rect x="1614" y="466" width="36" height="11" fill="#ff0000"/>
<rect x="1614" y="497" width="36" height="11" fill="#ff0000"/>
<rect x="1614" y="531" width="36" height="11" fill="#ff8c00"/>
<rect x="1614" y="552" width="36" height="11" fill="#000000"/>
<rect x="1614" y="582" width="36" height="11" fill="#0000ff"/>
<rect x="1614" y="616" width="36" height="11" fill="#0000ff"/>
</g><g>
<text x="1617.5" y="475" font-size="9.5" fill="#fff" stroke="#fff" stroke-width="0.22" textLength="27.8" lengthAdjust="spacingAndGlyphs">73.446</text>
<text x="1617.5" y="506" font-size="9.5" fill="#fff" stroke="#fff" stroke-width="0.22" textLength="27.8" lengthAdjust="spacingAndGlyphs">72.710</text>
<text x="1617.5" y="540" font-size="9.5" fill="#fff" stroke="#fff" stroke-width="0.22" textLength="27.8" lengthAdjust="spacingAndGlyphs">71.902</text>
<text x="1617.5" y="561" font-size="9.5" fill="#fff" stroke="#fff" stroke-width="0.22" textLength="27.8" lengthAdjust="spacingAndGlyphs">71.428</text>
<text x="1617.5" y="591" font-size="9.5" fill="#fff" stroke="#fff" stroke-width="0.22" textLength="27.8" lengthAdjust="spacingAndGlyphs">70.690</text>
<text x="1617.5" y="625" font-size="9.5" fill="#fff" stroke="#fff" stroke-width="0.22" textLength="27.8" lengthAdjust="spacingAndGlyphs">69.883</text>
<text x="1616.2" y="641" font-size="9.5" fill="#000" stroke="#000" stroke-width="0.22" textLength="27.6" lengthAdjust="spacingAndGlyphs">1.0557</text>
<text x="1616.2" y="665" font-size="9.5" fill="#000" stroke="#000" stroke-width="0.22" textLength="17.8" lengthAdjust="spacingAndGlyphs">0.00</text>
<text x="1615.8" y="714" font-size="9.5" fill="#000" stroke="#000" stroke-width="0.22" textLength="31.2" lengthAdjust="spacingAndGlyphs">-1.9913</text>
<text x="1616" y="730" font-size="9.5" fill="#000" stroke="#000" stroke-width="0.22" textLength="15.2" lengthAdjust="spacingAndGlyphs">100</text>
<text x="1614.7" y="741" font-size="9.5" fill="#000" stroke="#000" stroke-width="0.22" textLength="10.2" lengthAdjust="spacingAndGlyphs">80</text>
<text x="1614.7" y="765" font-size="9.5" fill="#000" stroke="#000" stroke-width="0.22" textLength="10.2" lengthAdjust="spacingAndGlyphs">50</text>
<text x="1615" y="794" font-size="9.5" fill="#000" stroke="#000" stroke-width="0.22" textLength="10" lengthAdjust="spacingAndGlyphs">15</text>
<text x="1616.2" y="800" font-size="9.5" fill="#000" stroke="#000" stroke-width="0.22" textLength="5" lengthAdjust="spacingAndGlyphs">0</text>
<text x="20.5" y="40.5" font-size="10" fill="#000" stroke="#000" stroke-width="0.22" textLength="169.5" lengthAdjust="spacingAndGlyphs">USOil-,H4  71.622 71.652 71.338 71.428</text>
<text x="9.2" y="643.5" font-size="10" fill="#000" stroke="#000" stroke-width="0.22" textLength="133.75" lengthAdjust="spacingAndGlyphs">MACD(12,26,9) -1.5210 -1.7074</text>
<text x="9.4" y="732.5" font-size="10" fill="#000" stroke="#000" stroke-width="0.22" textLength="67.6" lengthAdjust="spacingAndGlyphs">RSI(14) 30.3644</text>
<text x="3.8" y="816.5" font-size="10" fill="#000" stroke="#000" stroke-width="0.22" textLength="53.7" lengthAdjust="spacingAndGlyphs">23 Nov 2022</text>
<text x="67.8" y="816.5" font-size="10" fill="#000" stroke="#000" stroke-width="0.22" textLength="56.1" lengthAdjust="spacingAndGlyphs">23 Nov 16:00</text>
<text x="131.8" y="816.5" font-size="10" fill="#000" stroke="#000" stroke-width="0.22" textLength="56.1" lengthAdjust="spacingAndGlyphs">24 Nov 08:00</text>
<text x="195.8" y="816.5" font-size="10" fill="#000" stroke="#000" stroke-width="0.22" textLength="56.1" lengthAdjust="spacingAndGlyphs">25 Nov 00:00</text>
<text x="259.8" y="816.5" font-size="10" fill="#000" stroke="#000" stroke-width="0.22" textLength="56.1" lengthAdjust="spacingAndGlyphs">25 Nov 16:00</text>
<text x="323.8" y="816.5" font-size="10" fill="#000" stroke="#000" stroke-width="0.22" textLength="56.1" lengthAdjust="spacingAndGlyphs">28 Nov 08:00</text>
<text x="387.8" y="816.5" font-size="10" fill="#000" stroke="#000" stroke-width="0.22" textLength="56.1" lengthAdjust="spacingAndGlyphs">29 Nov 00:00</text>
<text x="451.8" y="816.5" font-size="10" fill="#000" stroke="#000" stroke-width="0.22" textLength="56.1" lengthAdjust="spacingAndGlyphs">29 Nov 16:00</text>
<text x="515.8" y="816.5" font-size="10" fill="#000" stroke="#000" stroke-width="0.22" textLength="56.1" lengthAdjust="spacingAndGlyphs">30 Nov 08:00</text>
<text x="579.8" y="816.5" font-size="10" fill="#000" stroke="#000" stroke-width="0.22" textLength="48.6" lengthAdjust="spacingAndGlyphs">1 Dec 00:00</text>
<text x="643.8" y="816.5" font-size="10" fill="#000" stroke="#000" stroke-width="0.22" textLength="48.6" lengthAdjust="spacingAndGlyphs">1 Dec 16:00</text>
<text x="707.8" y="816.5" font-size="10" fill="#000" stroke="#000" stroke-width="0.22" textLength="48.6" lengthAdjust="spacingAndGlyphs">2 Dec 08:00</text>
<text x="771.8" y="816.5" font-size="10" fill="#000" stroke="#000" stroke-width="0.22" textLength="48.6" lengthAdjust="spacingAndGlyphs">4 Dec 23:00</text>
<text x="835.8" y="816.5" font-size="10" fill="#000" stroke="#000" stroke-width="0.22" textLength="48.6" lengthAdjust="spacingAndGlyphs">5 Dec 12:00</text>
<text x="899.8" y="816.5" font-size="10" fill="#000" stroke="#000" stroke-width="0.22" textLength="48.6" lengthAdjust="spacingAndGlyphs">6 Dec 04:00</text>
<text x="963.8" y="816.5" font-size="10" fill="#000" stroke="#000" stroke-width="0.22" textLength="48.6" lengthAdjust="spacingAndGlyphs">6 Dec 20:00</text>
<text x="1027.8" y="816.5" font-size="10" fill="#000" stroke="#000" stroke-width="0.22" textLength="48.6" lengthAdjust="spacingAndGlyphs">7 Dec 12:00</text>
<text x="1091.8" y="816.5" font-size="10" fill="#000" stroke="#000" stroke-width="0.22" textLength="48.6" lengthAdjust="spacingAndGlyphs">8 Dec 04:00</text>
<text x="1155.8" y="816.5" font-size="10" fill="#000" stroke="#000" stroke-width="0.22" textLength="48.6" lengthAdjust="spacingAndGlyphs">8 Dec 20:00</text>
<text x="1219.8" y="816.5" font-size="10" fill="#000" stroke="#000" stroke-width="0.22" textLength="48.6" lengthAdjust="spacingAndGlyphs">9 Dec 12:00</text>
</g>
<g shape-rendering="crispEdges">
<rect x="8" y="35" width="7" height="1" fill="#000"/>
<rect x="9" y="36" width="5" height="1" fill="#000"/>
<rect x="10" y="37" width="3" height="1" fill="#000"/>
<rect x="11" y="38" width="1" height="1" fill="#000"/>
</g>
<defs><pattern id="dith" width="2" height="2" patternUnits="userSpaceOnUse"><rect width="2" height="2" fill="#f0f0f0"/><rect width="1" height="1" fill="#fff"/><rect x="1" y="1" width="1" height="1" fill="#fff"/></pattern><linearGradient id="gold" x1="0" y1="0" x2="1" y2="1"><stop offset="0" stop-color="#fff0a0"/><stop offset="0.45" stop-color="#ecc02c"/><stop offset="1" stop-color="#c08414"/></linearGradient><linearGradient id="lens" x1="0" y1="0" x2="0" y2="1"><stop offset="0" stop-color="#eefaff"/><stop offset="1" stop-color="#bfe4f5"/></linearGradient><linearGradient id="clk" x1="0" y1="0" x2="0" y2="1"><stop offset="0" stop-color="#2b8cf0"/><stop offset="1" stop-color="#0a4fa8"/></linearGradient><radialGradient id="badge" cx="0.5" cy="0.3" r="0.8"><stop offset="0" stop-color="#ee5a38"/><stop offset="1" stop-color="#d8260f"/></radialGradient><linearGradient id="gplus" x1="0" y1="0" x2="0" y2="1"><stop offset="0" stop-color="#5cf05c"/><stop offset="1" stop-color="#12a812"/></linearGradient><linearGradient id="candg" x1="0" y1="0" x2="1" y2="0"><stop offset="0" stop-color="#18b018"/><stop offset="0.5" stop-color="#7cf07c"/><stop offset="1" stop-color="#18b018"/></linearGradient></defs>
<g shape-rendering="crispEdges">
<rect x="242" y="0" width="25" height="23" fill="url(#dith)"/>
<rect x="242" y="0" width="25" height="1" fill="#a0a0a0"/>
<rect x="242" y="0" width="1" height="22" fill="#a0a0a0"/>
<rect x="242" y="22" width="25" height="1" fill="#fff"/>
<rect x="266" y="1" width="1" height="22" fill="#fff"/>
<rect x="394" y="0" width="25" height="23" fill="url(#dith)"/>
<rect x="394" y="0" width="25" height="1" fill="#a0a0a0"/>
<rect x="394" y="0" width="1" height="22" fill="#a0a0a0"/>
<rect x="394" y="22" width="25" height="1" fill="#fff"/>
<rect x="418" y="1" width="1" height="22" fill="#fff"/>
<rect x="422" y="0" width="25" height="23" fill="url(#dith)"/>
<rect x="422" y="0" width="25" height="1" fill="#a0a0a0"/>
<rect x="422" y="0" width="1" height="22" fill="#a0a0a0"/>
<rect x="422" y="22" width="25" height="1" fill="#fff"/>
<rect x="446" y="1" width="1" height="22" fill="#fff"/>
<rect x="582" y="0" width="25" height="23" fill="url(#dith)"/>
<rect x="582" y="0" width="25" height="1" fill="#a0a0a0"/>
<rect x="582" y="0" width="1" height="22" fill="#a0a0a0"/>
<rect x="582" y="22" width="25" height="1" fill="#fff"/>
<rect x="606" y="1" width="1" height="22" fill="#fff"/>
<rect x="1028" y="0" width="25" height="23" fill="url(#dith)"/>
<rect x="1028" y="0" width="25" height="1" fill="#a0a0a0"/>
<rect x="1028" y="0" width="1" height="22" fill="#a0a0a0"/>
<rect x="1028" y="22" width="25" height="1" fill="#fff"/>
<rect x="1052" y="1" width="1" height="22" fill="#fff"/>
<rect x="204" y="0" width="1" height="24" fill="#a0a0a0"/>
<rect x="205" y="0" width="1" height="24" fill="#fff"/>
<rect x="572" y="0" width="1" height="24" fill="#a0a0a0"/>
<rect x="573" y="0" width="1" height="24" fill="#fff"/>
<rect x="878" y="0" width="1" height="24" fill="#a0a0a0"/>
<rect x="879" y="0" width="1" height="24" fill="#fff"/>
<rect x="1139" y="0" width="1" height="24" fill="#a0a0a0"/>
<rect x="1140" y="0" width="1" height="24" fill="#fff"/>
<rect x="208" y="2" width="3" height="1" fill="#a0a0a0"/>
<rect x="208" y="4" width="3" height="1" fill="#a0a0a0"/>
<rect x="208" y="6" width="3" height="1" fill="#a0a0a0"/>
<rect x="208" y="8" width="3" height="1" fill="#a0a0a0"/>
<rect x="208" y="10" width="3" height="1" fill="#a0a0a0"/>
<rect x="208" y="12" width="3" height="1" fill="#a0a0a0"/>
<rect x="208" y="14" width="3" height="1" fill="#a0a0a0"/>
<rect x="208" y="16" width="3" height="1" fill="#a0a0a0"/>
<rect x="208" y="18" width="3" height="1" fill="#a0a0a0"/>
<rect x="208" y="20" width="3" height="1" fill="#a0a0a0"/>
<rect x="576" y="2" width="3" height="1" fill="#a0a0a0"/>
<rect x="576" y="4" width="3" height="1" fill="#a0a0a0"/>
<rect x="576" y="6" width="3" height="1" fill="#a0a0a0"/>
<rect x="576" y="8" width="3" height="1" fill="#a0a0a0"/>
<rect x="576" y="10" width="3" height="1" fill="#a0a0a0"/>
<rect x="576" y="12" width="3" height="1" fill="#a0a0a0"/>
<rect x="576" y="14" width="3" height="1" fill="#a0a0a0"/>
<rect x="576" y="16" width="3" height="1" fill="#a0a0a0"/>
<rect x="576" y="18" width="3" height="1" fill="#a0a0a0"/>
<rect x="576" y="20" width="3" height="1" fill="#a0a0a0"/>
<rect x="882" y="2" width="3" height="1" fill="#a0a0a0"/>
<rect x="882" y="4" width="3" height="1" fill="#a0a0a0"/>
<rect x="882" y="6" width="3" height="1" fill="#a0a0a0"/>
<rect x="882" y="8" width="3" height="1" fill="#a0a0a0"/>
<rect x="882" y="10" width="3" height="1" fill="#a0a0a0"/>
<rect x="882" y="12" width="3" height="1" fill="#a0a0a0"/>
<rect x="882" y="14" width="3" height="1" fill="#a0a0a0"/>
<rect x="882" y="16" width="3" height="1" fill="#a0a0a0"/>
<rect x="882" y="18" width="3" height="1" fill="#a0a0a0"/>
<rect x="882" y="20" width="3" height="1" fill="#a0a0a0"/>
<rect x="299" y="1" width="1" height="21" fill="#a0a0a0"/>
<rect x="389" y="1" width="1" height="21" fill="#a0a0a0"/>
<rect x="451" y="1" width="1" height="21" fill="#a0a0a0"/>
<rect x="639" y="1" width="1" height="21" fill="#a0a0a0"/>
<rect x="222" y="6" width="1" height="14" fill="#4d4d4d"/>
<rect x="221" y="7" width="3" height="1" fill="#4d4d4d"/>
<rect x="220" y="17" width="14" height="1" fill="#4d4d4d"/>
<rect x="232" y="16" width="1" height="3" fill="#4d4d4d"/>
<rect x="250" y="6" width="1" height="14" fill="#4d4d4d"/>
<rect x="249" y="7" width="3" height="1" fill="#4d4d4d"/>
<rect x="248" y="17" width="14" height="1" fill="#4d4d4d"/>
<rect x="260" y="16" width="1" height="3" fill="#4d4d4d"/>
<rect x="278" y="6" width="1" height="14" fill="#4d4d4d"/>
<rect x="277" y="7" width="3" height="1" fill="#4d4d4d"/>
<rect x="276" y="17" width="14" height="1" fill="#4d4d4d"/>
<rect x="288" y="16" width="1" height="3" fill="#4d4d4d"/>
<rect x="402" y="6" width="1" height="14" fill="#4d4d4d"/>
<rect x="401" y="7" width="3" height="1" fill="#4d4d4d"/>
<rect x="400" y="17" width="14" height="1" fill="#4d4d4d"/>
<rect x="412" y="16" width="1" height="3" fill="#4d4d4d"/>
<rect x="430" y="6" width="1" height="14" fill="#4d4d4d"/>
<rect x="429" y="7" width="3" height="1" fill="#4d4d4d"/>
<rect x="428" y="17" width="14" height="1" fill="#4d4d4d"/>
<rect x="440" y="16" width="1" height="3" fill="#4d4d4d"/>
<rect x="228" y="7" width="1" height="9" fill="#0a8a0a"/>
<rect x="229" y="7" width="1" height="9" fill="#4aa84a"/>
<rect x="230" y="8" width="2" height="1" fill="#0a8a0a"/>
<rect x="226" y="14" width="2" height="1" fill="#0a8a0a"/>
<rect x="256" y="4" width="1" height="12" fill="#0a8a0a"/>
<rect x="254" y="6" width="5" height="8" fill="#0a8a0a"/>
<rect x="255" y="7" width="3" height="6" fill="url(#candg)"/>
<rect x="436" y="6" width="1" height="10" fill="#1a6aa8"/>
<rect x="622" y="5" width="1" height="6" fill="#4d4d4d"/>
<rect x="622" y="14" width="1" height="6" fill="#4d4d4d"/>
<rect x="615" y="12" width="6" height="1" fill="#4d4d4d"/>
<rect x="624" y="12" width="6" height="1" fill="#4d4d4d"/>
<rect x="622" y="12" width="1" height="1" fill="#4d4d4d"/>
<rect x="656" y="6" width="1" height="13" fill="#4d4d4d"/>
<rect x="679" y="12" width="12" height="1" fill="#4d4d4d"/>
<rect x="762" y="5" width="1" height="1" fill="#4d4d4d"/>
<rect x="764" y="5" width="1" height="1" fill="#4d4d4d"/>
<rect x="766" y="5" width="1" height="1" fill="#4d4d4d"/>
<rect x="768" y="5" width="1" height="1" fill="#4d4d4d"/>
<rect x="770" y="5" width="1" height="1" fill="#4d4d4d"/>
<rect x="772" y="5" width="1" height="1" fill="#4d4d4d"/>
<rect x="774" y="5" width="1" height="1" fill="#4d4d4d"/>
<rect x="762" y="8" width="1" height="1" fill="#4d4d4d"/>
<rect x="764" y="8" width="1" height="1" fill="#4d4d4d"/>
<rect x="766" y="8" width="1" height="1" fill="#4d4d4d"/>
<rect x="768" y="8" width="1" height="1" fill="#4d4d4d"/>
<rect x="770" y="8" width="1" height="1" fill="#4d4d4d"/>
<rect x="772" y="8" width="1" height="1" fill="#4d4d4d"/>
<rect x="774" y="8" width="1" height="1" fill="#4d4d4d"/>
<rect x="762" y="12" width="1" height="1" fill="#4d4d4d"/>
<rect x="764" y="12" width="1" height="1" fill="#4d4d4d"/>
<rect x="766" y="12" width="1" height="1" fill="#4d4d4d"/>
<rect x="768" y="12" width="1" height="1" fill="#4d4d4d"/>
<rect x="770" y="12" width="1" height="1" fill="#4d4d4d"/>
<rect x="772" y="12" width="1" height="1" fill="#4d4d4d"/>
<rect x="774" y="12" width="1" height="1" fill="#4d4d4d"/>
<rect x="762" y="16" width="1" height="1" fill="#4d4d4d"/>
<rect x="764" y="16" width="1" height="1" fill="#4d4d4d"/>
<rect x="766" y="16" width="1" height="1" fill="#4d4d4d"/>
<rect x="768" y="16" width="1" height="1" fill="#4d4d4d"/>
<rect x="770" y="16" width="1" height="1" fill="#4d4d4d"/>
<rect x="819" y="5" width="1" height="1" fill="#4d4d4d"/>
<rect x="819" y="18" width="1" height="1" fill="#4d4d4d"/>
<rect x="821" y="5" width="1" height="1" fill="#4d4d4d"/>
<rect x="821" y="18" width="1" height="1" fill="#4d4d4d"/>
<rect x="823" y="5" width="1" height="1" fill="#4d4d4d"/>
<rect x="823" y="18" width="1" height="1" fill="#4d4d4d"/>
<rect x="825" y="5" width="1" height="1" fill="#4d4d4d"/>
<rect x="825" y="18" width="1" height="1" fill="#4d4d4d"/>
<rect x="827" y="5" width="1" height="1" fill="#4d4d4d"/>
<rect x="827" y="18" width="1" height="1" fill="#4d4d4d"/>
<rect x="829" y="5" width="1" height="1" fill="#4d4d4d"/>
<rect x="829" y="18" width="1" height="1" fill="#4d4d4d"/>
<rect x="831" y="5" width="1" height="1" fill="#4d4d4d"/>
<rect x="831" y="18" width="1" height="1" fill="#4d4d4d"/>
<rect x="818" y="5" width="1" height="1" fill="#4d4d4d"/>
<rect x="830" y="5" width="1" height="1" fill="#4d4d4d"/>
<rect x="818" y="7" width="1" height="1" fill="#4d4d4d"/>
<rect x="830" y="7" width="1" height="1" fill="#4d4d4d"/>
<rect x="818" y="9" width="1" height="1" fill="#4d4d4d"/>
<rect x="830" y="9" width="1" height="1" fill="#4d4d4d"/>
<rect x="818" y="11" width="1" height="1" fill="#4d4d4d"/>
<rect x="830" y="11" width="1" height="1" fill="#4d4d4d"/>
<rect x="818" y="13" width="1" height="1" fill="#4d4d4d"/>
<rect x="830" y="13" width="1" height="1" fill="#4d4d4d"/>
<rect x="818" y="15" width="1" height="1" fill="#4d4d4d"/>
<rect x="830" y="15" width="1" height="1" fill="#4d4d4d"/>
<rect x="818" y="17" width="1" height="1" fill="#4d4d4d"/>
<rect x="830" y="17" width="1" height="1" fill="#4d4d4d"/>
<rect x="483" y="11" width="5" height="1" fill="#000"/>
<rect x="484" y="12" width="3" height="1" fill="#000"/>
<rect x="485" y="13" width="1" height="1" fill="#000"/>
<rect x="522" y="11" width="5" height="1" fill="#000"/>
<rect x="523" y="12" width="3" height="1" fill="#000"/>
<rect x="524" y="13" width="1" height="1" fill="#000"/>
<rect x="561" y="11" width="5" height="1" fill="#000"/>
<rect x="562" y="12" width="3" height="1" fill="#000"/>
<rect x="563" y="13" width="1" height="1" fill="#000"/>
<rect x="867" y="11" width="5" height="1" fill="#000"/>
<rect x="868" y="12" width="3" height="1" fill="#000"/>
<rect x="869" y="13" width="1" height="1" fill="#000"/>
<rect x="364" y="4" width="8" height="8" fill="#2e9e18"/>
<rect x="365" y="7" width="6" height="4" fill="#fff"/>
<rect x="366" y="8" width="4" height="1" fill="#2e9e18" opacity="0.55"/>
<rect x="365" y="5" width="1" height="1" fill="#fff" opacity="0.8"/>
<rect x="372" y="4" width="8" height="8" fill="#1c50d0"/>
<rect x="373" y="7" width="6" height="4" fill="#fff"/>
<rect x="374" y="8" width="4" height="1" fill="#1c50d0" opacity="0.55"/>
<rect x="373" y="5" width="1" height="1" fill="#fff" opacity="0.8"/>
<rect x="364" y="12" width="8" height="8" fill="#1c50d0"/>
<rect x="365" y="15" width="6" height="4" fill="#fff"/>
<rect x="366" y="16" width="4" height="1" fill="#1c50d0" opacity="0.55"/>
<rect x="365" y="13" width="1" height="1" fill="#fff" opacity="0.8"/>
<rect x="372" y="12" width="8" height="8" fill="#2e9e18"/>
<rect x="373" y="15" width="6" height="4" fill="#fff"/>
<rect x="374" y="16" width="4" height="1" fill="#2e9e18" opacity="0.55"/>
<rect x="373" y="13" width="1" height="1" fill="#fff" opacity="0.8"/>
<rect x="538" y="5" width="16" height="14" fill="#3a78c8"/>
<rect x="539" y="6" width="14" height="2" fill="#a8cdf4"/>
<rect x="539" y="8" width="14" height="5" fill="#fff"/>
<rect x="539" y="14" width="14" height="4" fill="#fff"/>
</g>
<path d="M277.3 14.8 C279.5 13.5 281.5 9.2 283.5 9.4 C285.5 9.6 287 12.6 288.8 13.2" fill="none" stroke="#1a9a1a" stroke-width="1.2"/>
<path d="M407.5 8.3 L407.5 14.7 L411 11.5 Z" fill="#7be07b" stroke="#0a8a0a" stroke-width="1"/>
<path d="M437.5 11.5 L442 11.5 M437.5 11.5 L440 9.3 M437.5 11.5 L440 13.7" fill="none" stroke="#d8500a" stroke-width="1.3"/>
<path d="M540.5 11.5 L543 11 L545.5 9.6 L548 10.6 L551.5 9.4" fill="none" stroke="#a82010" stroke-width="1.2"/>
<path d="M541 16.6 L543.5 15.8 L546 16.8 L549 14.4 L552 16.8" fill="none" stroke="#109030" stroke-width="1.2"/>
<path d="M590 4.8 L590 15.8 L592.6 13.4 L595 19 L597 18.1 L594.7 12.7 L598.2 12.4 Z" fill="#4d4d4d"/>
<path d="M707 19 L719 7" fill="none" stroke="#555" stroke-width="1"/>
<path d="M733 13.6 L741.4 5.9 M737.4 19 L747 10.3 M737.4 10.6 L735.3 17.8 M740.9 8 L738.5 15.6 M745 4.4 L741.9 13" fill="none" stroke="#4d4d4d" stroke-width="1"/>
<text x="743.6" y="20.8" font-size="7" font-weight="bold" fill="#333">E</text>
<text x="771.6" y="20.8" font-size="7" font-weight="bold" fill="#333">F</text>
<text x="792.3" y="17" font-size="12.5" font-weight="bold" fill="#555" textLength="8.6" lengthAdjust="spacingAndGlyphs">A</text>
<text x="821" y="17" font-size="11" font-weight="bold" fill="#555" textLength="8" lengthAdjust="spacingAndGlyphs">T</text>
<path d="M849.5 5.6 L852.6 9 L849.5 10.6 L846.4 9 Z M856.5 13 L860 15.8 L856.5 19.4 L853 15.8 Z" fill="#4d4d4d"/>
<path d="M848 12.2 L850 14.4 L855 9" fill="none" stroke="#4d4d4d" stroke-width="1.3"/>
<path d="M317.6 14.0 L322.7 18.3" stroke="#a87808" stroke-width="3.6" stroke-linecap="round"/>
<path d="M317.8 14.2 L322.5 18.1" stroke="#f0d040" stroke-width="1.8" stroke-linecap="round"/>
<circle cx="314" cy="10" r="5.5" fill="url(#lens)" stroke="#2f7fcc" stroke-width="1.2"/>
<path d="M311 10 L317 10" stroke="#3a7ca5" stroke-width="1.8"/>
<path d="M314 7 L314 13" stroke="#3a7ca5" stroke-width="1.8"/>
<path d="M345.6 14.0 L350.7 18.3" stroke="#a87808" stroke-width="3.6" stroke-linecap="round"/>
<path d="M345.8 14.2 L350.5 18.1" stroke="#f0d040" stroke-width="1.8" stroke-linecap="round"/>
<circle cx="342" cy="10" r="5.5" fill="url(#lens)" stroke="#2f7fcc" stroke-width="1.2"/>
<path d="M339 10 L345 10" stroke="#3a7ca5" stroke-width="1.8"/>
<path d="M462.5 4.9 L469.5 4.9 L472.3 7.7 L472.3 17.3 L462.5 17.3 Z" fill="#fdfdfd" stroke="#9a9a9a" stroke-width="1"/>
<path d="M464.7 8 L464.7 14 M464.7 9 L466.5 9 M464.7 12 L466.5 12" stroke="#555" stroke-width="0.9" fill="none"/>
<path d="M469.2 10.5 L473.2 10.5 L473.2 14.2 L476.9 14.2 L476.9 18 L473.2 18 L473.2 21.7 L469.2 21.7 L469.2 18 L465.5 18 L465.5 14.2 L469.2 14.2 Z" fill="url(#gplus)" stroke="#0c8c0c" stroke-width="0.9"/>
<circle cx="507" cy="12" r="6.9" fill="#fff" stroke="url(#clk)" stroke-width="2.4"/>
<path d="M506.6 8 L506.6 12.2 L509.6 12.2" fill="none" stroke="#222" stroke-width="1.2"/>
<path d="M505.5 14.6 L508.5 14.6" stroke="#8ab8f0" stroke-width="1"/>
<path d="M45.4 14.2 L52.9 20.2 L61.4 12.6 L60.4 11.2 L52.8 17.8 L45.6 13 Z" fill="#a0640e" stroke="#8a5208" stroke-width="0.5"/>
<path d="M50.4 4.9 L60.7 11.8 L52.9 18.4 L45.1 13.3 C47.6 11.4 49.4 8.4 50.4 4.9 Z" fill="url(#gold)" stroke="#b07814" stroke-width="0.8"/>
<path d="M50.9 6.6 L58.6 11.6" stroke="#fff6b8" stroke-width="1" opacity="0.7" fill="none"/>
<path d="M75.5 4.6 L83.5 4.2 L86 5.8 L86 12.6 L78 13 L75.5 11.5 Z" fill="#2a9af0" stroke="#1a70d0" stroke-width="0.8"/>
<path d="M78 6.4 L78 13 M78 6.4 L86 5.8" stroke="#8fd0ff" stroke-width="0.8" fill="none"/>
<rect x="79.6" y="8" width="5" height="1.6" fill="#dff2ff"/>
<path d="M75.5 19.2 C72.6 19.2 72.4 15.4 75.4 15.2 C75.8 12.6 79.6 12 81 14 C83 12.4 86.4 13.4 86 15.6 C89.4 15.6 89.4 19.2 86.4 19.2 Z" fill="#eaf1fb" stroke="#5f86c8" stroke-width="1.1"/>
<g fill="none" stroke-width="1.1"><path d="M107.75 19.09 A7.2 7.2 0 1 1 112.60 5.76" stroke="#6f98e0" opacity="0.6"/><path d="M108.17 16.73 A4.8 4.8 0 1 1 111.40 7.84" stroke="#3f78d8" opacity="0.85"/><path d="M108.57 14.46 A2.5 2.5 0 1 1 110.92 10.39" stroke="#2a60d0"/><path d="M113.63 6.48 A7.2 7.2 0 0 1 109.25 19.20" stroke="#58a858" opacity="0.6"/><path d="M112.39 8.61 A4.8 4.8 0 0 1 109.17 16.80" stroke="#3c9c3c" opacity="0.85"/><path d="M111.17 10.75 A2.5 2.5 0 0 1 109.09 14.50" stroke="#3c9c3c"/></g>
<circle cx="109" cy="11.8" r="1.5" fill="#1a50c8"/><path d="M109.6 12.4 L109.6 19.3" stroke="#1aa01a" stroke-width="1.4"/>
<path d="M129.2 10.6 L142.5 10.6 L137.4 19.6 L134.8 19.6 Z" fill="#f6d24a" stroke="#c89a18" stroke-width="0.8"/>
<path d="M128.6 9 C130.5 7.6 132 8 132.6 6.2 C133.2 3.6 139.4 3.6 140 6.2 C140.8 8 142.4 7.2 143.8 8.2 C143.6 10.4 139.5 11.6 136.2 11.6 C133 11.6 129 10.8 128.6 9 Z" fill="#58b0e0" stroke="#2a80b8" stroke-width="0.8"/>
<circle cx="140.6" cy="15.7" r="4.1" fill="#e02810"/><rect x="138.9" y="14" width="3.4" height="3.4" fill="#fff"/>
<path d="M1606.6 12.8 L1602 17" stroke="#2a5bd0" stroke-width="2.6" stroke-linecap="round"/><circle cx="1609.6" cy="9.4" r="3.7" fill="#f4f6ff" stroke="#2a5bd7" stroke-width="1.3"/>
<path d="M1631 9.8 C1634.2 9.8 1636 11.6 1636 14 C1636 16.6 1633.6 18 1631.4 18 L1629.6 20.4 L1629.4 17.8 C1627.4 17.4 1626.2 15.8 1626.2 14 C1626.2 11.6 1628 9.8 1631 9.8 Z" fill="#dcdde8" stroke="#b4b4b8" stroke-width="0.9"/>
<circle cx="1640.4" cy="9.4" r="8.2" fill="url(#badge)"/>
<text x="1637.3" y="13.9" font-size="12.5" fill="#fff" font-weight="bold" textLength="6" lengthAdjust="spacingAndGlyphs">1</text>
<text class="cjk" x="-2.6" y="15.6" font-size="12" font-weight="500" fill="#000">新订单</text>
<text class="cjk" x="148.6" y="15.6" font-size="12" font-weight="500" fill="#000" textLength="48" lengthAdjust="spacingAndGlyphs">自动交易</text>
<text x="893.5" y="16" font-size="9.6" fill="#404040" stroke="#404040" stroke-width="0.2" textLength="12.5" lengthAdjust="spacingAndGlyphs">M1</text>
<text x="921" y="16" font-size="9.6" fill="#404040" stroke="#404040" stroke-width="0.2" textLength="13" lengthAdjust="spacingAndGlyphs">M5</text>
<text x="947.5" y="16" font-size="9.6" fill="#404040" stroke="#404040" stroke-width="0.2" textLength="17.5" lengthAdjust="spacingAndGlyphs">M15</text>
<text x="975.5" y="16" font-size="9.6" fill="#404040" stroke="#404040" stroke-width="0.2" textLength="17.5" lengthAdjust="spacingAndGlyphs">M30</text>
<text x="1006.5" y="16" font-size="9.6" fill="#404040" stroke="#404040" stroke-width="0.2" textLength="11.5" lengthAdjust="spacingAndGlyphs">H1</text>
<text x="1033.5" y="16" font-size="9.6" fill="#404040" stroke="#404040" stroke-width="0.2" textLength="12.5" lengthAdjust="spacingAndGlyphs">H4</text>
<text x="1062.5" y="16" font-size="9.6" fill="#404040" stroke="#404040" stroke-width="0.2" textLength="11.5" lengthAdjust="spacingAndGlyphs">D1</text>
<text x="1090" y="16" font-size="9.6" fill="#404040" stroke="#404040" stroke-width="0.2" textLength="13.75" lengthAdjust="spacingAndGlyphs">W1</text>
<text x="1116" y="16" font-size="9.6" fill="#404040" stroke="#404040" stroke-width="0.2" textLength="15" lengthAdjust="spacingAndGlyphs">MN</text>
</svg></body></html>
